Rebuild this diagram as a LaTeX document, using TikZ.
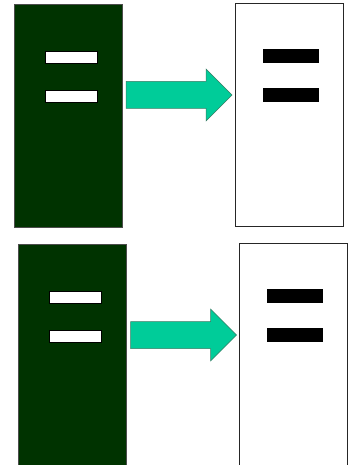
\documentclass[tikz,border=0pt]{standalone}
\usepackage{tikz}
\usetikzlibrary{positioning}
\definecolor{geldark}{HTML}{003300}
\definecolor{arrowteal}{HTML}{00CC99}
\definecolor{arrowedge}{HTML}{3C7A64}

\begin{document}
\begin{tikzpicture}[x=1pt, y=-1pt,
  gel/.style={draw=black!70, fill=geldark, line width=0.6pt, inner sep=0pt,
              minimum width=108pt, minimum height=223pt},
  membrane/.style={draw=black!85, fill=white, line width=0.6pt, inner sep=0pt,
              minimum width=108pt, minimum height=223pt},
  band/.style={draw=black, fill=white, line width=0.5pt, inner sep=0pt,
              minimum width=52pt, minimum height=12pt},
  spot/.style={draw=black, fill=black, inner sep=0pt,
              minimum width=55pt, minimum height=13pt},
  transfer/.style={draw=arrowedge, fill=arrowteal, line width=0.5pt}]
\useasboundingbox[fill=white] (0,0) rectangle (353,465);
\foreach \dx/\dy/\n in {0/0/1, 4.5/240/2} {
  \begin{scope}[shift={(\dx,\dy)}]
  % gel with two bands
  \node[gel] (gel\n) at (68,115.5) {};
  \node[band] (bandA\n) at (71,57) {};
  \node[band] (bandB\n) at (71,96) {};
  % blot with the transferred bands
  \node[membrane] (blot\n) at (289,114.5) {};
  \node[spot] (spotA\n) at (290.5,56) {};
  \node[spot] (spotB\n) at (290.5,95) {};
  % transfer arrow
  \coordinate (tail\n) at (126,95);
  \coordinate (tip\n) at (232,95);
  \draw[transfer] (tail\n) ++(0,-13.5) -- ++(80,0) -- ++(0,-12.5)
    -- (tip\n) -- ++(-26,26) -- ++(0,-12.5) -- ++(-80,0) -- cycle;
  \end{scope}
}
\end{tikzpicture}
\end{document}
